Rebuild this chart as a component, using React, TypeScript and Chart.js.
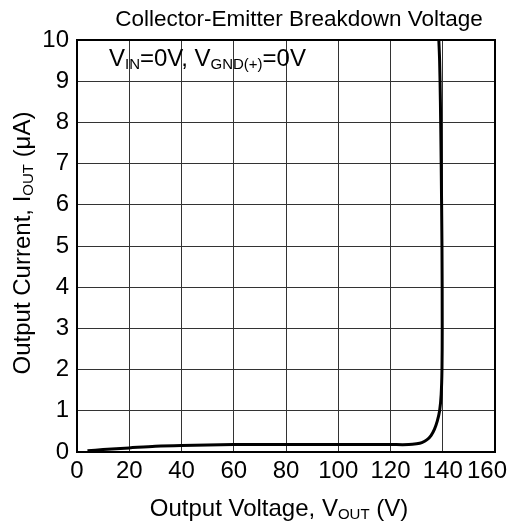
import React, { useEffect, useRef } from "react";
import { Chart, registerables } from "chart.js";

Chart.register(...registerables);

const voltage = [4, 10, 20, 30, 40, 60, 80, 100, 120, 127, 130, 132, 134, 135.5, 136.8, 137.9, 138.8, 139.4, 139.7, 139.8, 139.7, 139.4, 139.1, 138.8, 138.5];
const current = [0.03, 0.06, 0.1, 0.14, 0.16, 0.18, 0.18, 0.18, 0.18, 0.18, 0.2, 0.23, 0.3, 0.4, 0.55, 0.75, 1.0, 1.4, 2, 3, 5, 7, 8.5, 9.5, 10];
const xTicks = [0, 20, 40, 60, 80, 100, 120, 140, 160];
const yTicks = [0, 1, 2, 3, 4, 5, 6, 7, 8, 9, 10];

const FONT = "'Liberation Sans', Arial, sans-serif";

function drawSub(ctx: CanvasRenderingContext2D, parts: [string, boolean][], x: number, y: number, size: number, subSize: number, align: "left" | "center") {
  let total = 0;
  for (const [t, sub] of parts) {
    ctx.font = `${sub ? subSize : size}px ${FONT}`;
    total += ctx.measureText(t).width;
  }
  let cx = align === "center" ? x - total / 2 : x;
  for (const [t, sub] of parts) {
    ctx.font = `${sub ? subSize : size}px ${FONT}`;
    ctx.fillText(t, cx, sub ? y + size * 0.12 : y);
    cx += ctx.measureText(t).width;
  }
}

const textPlugin = {
  id: "texts",
  afterDraw(chart: any) {
    const ctx: CanvasRenderingContext2D = chart.ctx;
    const a = chart.chartArea;
    const xs = chart.scales.x;
    ctx.save();
    ctx.fillStyle = "#000";
    ctx.textBaseline = "alphabetic";
    ctx.textAlign = "left";
    // x tick labels (last one kept inside the canvas)
    ctx.font = `24px ${FONT}`;
    for (const v of xTicks) {
      const t = String(v);
      const w = ctx.measureText(t).width;
      const px = xs.getPixelForValue(v);
      const x = Math.min(px - w / 2, chart.width - 3 - w);
      ctx.fillText(t, x, 478);
    }
    // title
    ctx.font = `22.5px ${FONT}`;
    const title = "Collector-Emitter Breakdown Voltage";
    const tw = ctx.measureText(title).width;
    ctx.fillText(title, (116 + 482) / 2 - tw / 2, 26);
    // annotation
    drawSub(ctx, [["V", false], ["IN", true], ["=0V, V", false], ["GND(+)", true], ["=0V", false]], 109, 66, 24, 15, "left");
    // x title
    drawSub(ctx, [["Output Voltage, V", false], ["OUT", true], [" (V)", false]], 279, 516, 24, 15, "center");
    // y title
    ctx.translate(30, 243);
    ctx.rotate(-Math.PI / 2);
    drawSub(ctx, [["Output Current, I", false], ["OUT", true], [" (μA)", false]], 0, 0, 24, 15, "center");
    ctx.restore();
    // border
    ctx.save();
    ctx.strokeStyle = "#000";
    ctx.lineWidth = 2;
    ctx.strokeRect(a.left, a.top, a.right - a.left, a.bottom - a.top);
    ctx.restore();
  },
};

export default function App() {
  const ref = useRef<HTMLCanvasElement>(null);
  useEffect(() => {
    const data = voltage.map((v, i) => ({ x: v, y: current[i] }));
    const chart = new Chart(ref.current!, {
      type: "scatter",
      data: {
        datasets: [
          {
            data,
            showLine: true,
            borderColor: "#000",
            borderWidth: 3,
            pointRadius: 0,
            tension: 0.3,
            fill: false,
          },
        ],
      },
      options: {
        animation: false,
        responsive: false,
        devicePixelRatio: 1,
        layout: { padding: { left: 0, top: 40, right: 15, bottom: 43 } },
        plugins: { legend: { display: false }, tooltip: { enabled: false }, title: { display: false } },
        scales: {
          x: {
            type: "linear",
            min: 0,
            max: 160,
            afterBuildTicks: (s: any) => { s.ticks = xTicks.map((v) => ({ value: v })); },
            afterFit: (s: any) => { s.height = 30; s.paddingRight = 0; s.paddingLeft = 0; },
            grid: { color: "#333", lineWidth: 1, drawTicks: false },
            border: { display: false },
            ticks: { display: false },
          },
          y: {
            type: "linear",
            min: 0,
            max: 10,
            afterBuildTicks: (s: any) => { s.ticks = yTicks.map((v) => ({ value: v })); },
            afterFit: (s: any) => { s.width = 77; s.paddingTop = 0; s.paddingBottom = 0; },
            grid: { color: "#333", lineWidth: 1, drawTicks: false },
            border: { display: false },
            ticks: { color: "#000", font: { family: FONT, size: 24 }, padding: 8, autoSkip: false },
          },
        },
      },
      plugins: [textPlugin],
    });
    return () => chart.destroy();
  }, []);
  return (
    <div style={{ position: "fixed", left: 0, top: 0, width: 510, height: 525, background: "#fff" }}>
      <canvas ref={ref} width={510} height={525} />
    </div>
  );
}
